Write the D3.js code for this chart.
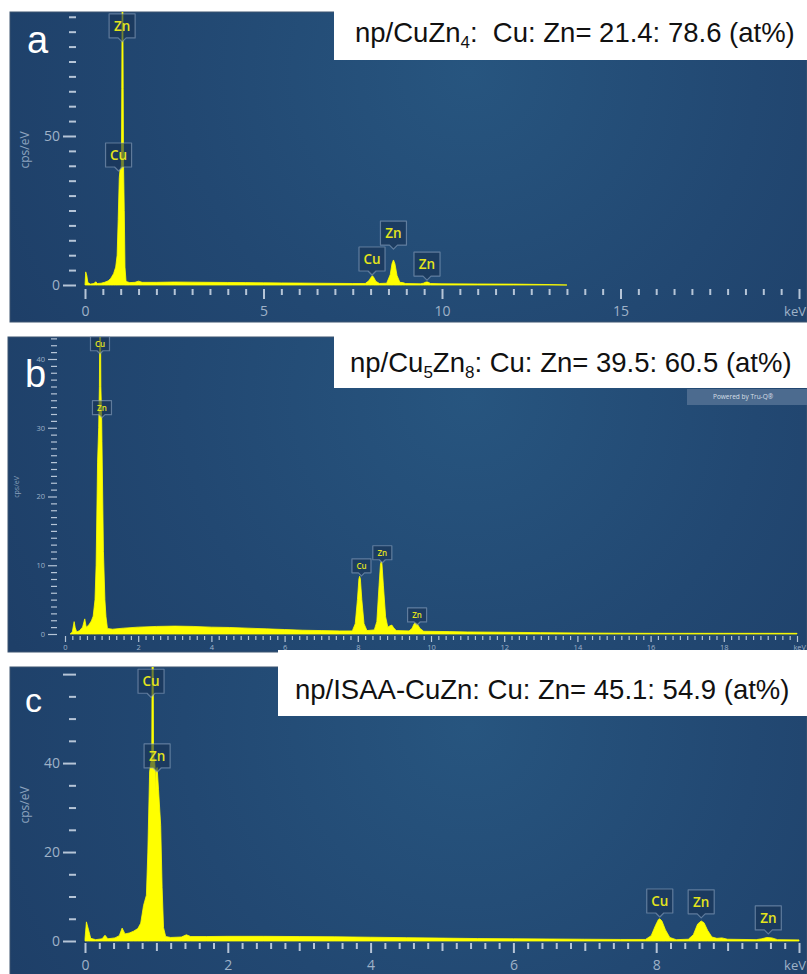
<!DOCTYPE html>
<html>
<head>
<meta charset="utf-8">
<script src="https://cdn.jsdelivr.net/npm/d3@7"></script>
<style>
html, body { margin: 0; padding: 0; background: #ffffff; }
svg { display: block; }
</style>
</head>
<body>
<svg id="chart" width="807" height="974"></svg>
<script>
// EDS spectra, [energy (keV), intensity (cps/eV)]
const spectrumA = [
  [0.00,0],[0.02,4.4],[0.05,3.2],[0.08,0.8],[0.15,0.3],[0.25,0.5],[0.30,1.1],[0.35,0.5],
  [0.45,0.6],[0.55,0.9],[0.65,1.4],[0.72,2.2],[0.80,3.8],[0.86,6],[0.90,10],[0.93,22],
  [0.96,36],[0.98,38.5],[1.00,39],[1.02,40],[1.03,66],[1.04,95],[1.06,95],[1.07,66],
  [1.08,40],[1.10,25],[1.12,6],[1.15,1.2],[1.25,0.8],[1.40,0.9],[1.50,1.3],[1.60,0.9],
  [2.0,0.9],[2.5,1.0],[3.0,0.95],[3.5,0.9],[4.0,0.85],[4.5,0.8],[5.0,0.75],[5.5,0.7],
  [6.0,0.65],[6.5,0.6],[7.0,0.55],[7.5,0.5],[7.85,0.5],[7.95,1.4],[8.02,2.7],[8.05,3.1],
  [8.08,2.7],[8.15,1.2],[8.25,0.5],[8.45,0.6],[8.55,3.5],[8.60,7.2],[8.64,8.4],[8.68,7.2],
  [8.74,3.2],[8.82,0.9],[8.90,0.8],[8.98,0.5],[9.40,0.4],[9.48,0.6],[9.55,1.0],[9.60,1.0],
  [9.68,0.5],[10,0.4],[11,0.35],[12,0.3],[13,0.15],[13.5,0]
];
const spectrumB = [
  [0.14,0],[0.20,0.3],[0.25,1.8],[0.28,0.9],[0.32,0.3],[0.40,0.5],[0.48,1.0],[0.54,2.2],
  [0.58,1.0],[0.65,1.3],[0.72,1.9],[0.77,2.6],[0.82,5],[0.85,10],[0.89,25],[0.92,30],
  [0.94,36],[0.95,45],[0.97,45],[0.98,36],[1.00,32],[1.01,28],[1.05,12],[1.09,5],
  [1.12,2.5],[1.16,0.8],[1.3,0.7],[1.6,0.85],[2.0,1.0],[2.5,1.1],[3.0,1.15],[3.5,1.1],
  [4.0,1.0],[4.5,0.95],[5.0,0.85],[5.5,0.75],[6.0,0.65],[6.5,0.55],[7.0,0.5],[7.5,0.45],
  [7.85,0.45],[7.93,1.5],[7.99,5],[8.03,8],[8.05,8.4],[8.07,8],[8.11,5],[8.17,1.5],
  [8.25,0.5],[8.45,0.6],[8.52,1.8],[8.58,7],[8.62,10.2],[8.64,10.5],[8.66,10.2],[8.70,7],
  [8.76,2.5],[8.82,1.0],[8.88,1.2],[8.93,1.3],[8.98,0.9],[9.05,0.5],[9.40,0.45],[9.48,0.8],
  [9.54,1.5],[9.58,1.6],[9.62,1.5],[9.70,0.8],[9.80,0.4],[10.5,0.35],[11,0.3],[12,0.25],
  [13,0.2],[14,0.15],[15,0.12],[16,0.1],[18,0.1],[20,0.1]
];
const spectrumC = [
  [0.00,0.5],[0.02,4.3],[0.05,2.5],[0.08,0.6],[0.15,0.3],[0.24,0.5],[0.28,1.3],[0.32,0.5],
  [0.42,0.7],[0.48,1.2],[0.52,2.9],[0.56,1.6],[0.62,1.8],[0.68,2.2],[0.74,2.8],[0.78,4],
  [0.82,8],[0.86,10.3],[0.88,20],[0.905,38],[0.92,40],[0.935,41],[0.94,64],[0.955,64],
  [0.96,42],[0.975,40.5],[0.985,38],[0.99,33],[0.995,38],[1.01,39],[1.03,34],[1.06,26],
  [1.08,12],[1.10,3],[1.13,1],[1.2,0.8],[1.35,0.9],[1.42,1.4],[1.48,1.0],[1.7,1.0],
  [2.0,1.05],[2.5,1.05],[3.0,1.0],[3.5,0.95],[4.0,0.85],[4.5,0.75],[5.0,0.65],[5.5,0.55],
  [6.0,0.5],[6.5,0.45],[7.0,0.4],[7.5,0.35],[7.85,0.35],[7.93,1.2],[7.99,3.5],[8.03,4.8],
  [8.05,5],[8.08,4.5],[8.13,2.5],[8.19,0.8],[8.28,0.3],[8.45,0.4],[8.52,1.4],[8.58,3.8],
  [8.63,4.5],[8.67,4.1],[8.72,2.4],[8.78,0.9],[8.85,0.6],[8.92,0.7],[9.0,0.4],[9.40,0.3],
  [9.48,0.5],[9.55,0.8],[9.62,0.7],[9.70,0.3],[10,0.25]
];

// Peak identification tags: element, energy, intensity at the tag's lower edge
const peaksA = [
  {el:"Zn", keV:1.04, cps:82.9}, {el:"Cu", keV:0.94, cps:39.6},
  {el:"Cu", keV:8.04, cps:4.7}, {el:"Zn", keV:8.64, cps:13.4}, {el:"Zn", keV:9.58, cps:3.0}
];
const peaksB = [
  {el:"Cu", keV:0.956, cps:41.2}, {el:"Zn", keV:1.01, cps:31.9},
  {el:"Cu", keV:8.10, cps:8.9}, {el:"Zn", keV:8.67, cps:10.8}, {el:"Zn", keV:9.62, cps:1.75}
];
const peaksC = [
  {el:"Cu", keV:0.925, cps:55.7}, {el:"Zn", keV:1.01, cps:38.9},
  {el:"Cu", keV:8.05, cps:6.3}, {el:"Zn", keV:8.63, cps:6.1}, {el:"Zn", keV:9.57, cps:2.5}
];

// Composition headers: [text, subscript?]
const titleA = [["np/CuZn",0],["4",1],[":  Cu: Zn= 21.4: 78.6 (at%)",0]];
const titleB = [["np/Cu",0],["5",1],["Zn",0],["8",1],[": Cu: Zn= 39.5: 60.5 (at%)",0]];
const titleC = [["np/ISAA-CuZn: Cu: Zn= 45.1: 54.9 (at%)",0]];

// Tick labels
const xLabelsA = [0, 5, 10, 15];
const yLabelsA = [0, 50];
const xLabelsB = [0, 2, 4, 6, 8, 10, 12, 14, 16, 18];
const yLabelsB = [0, 10, 20, 30, 40];
const xLabelsC = [0, 2, 4, 6, 8];
const yLabelsC = [0, 20, 40];

// Panel geometry and styling
const panels = [
  { letter:"a", spectrum:spectrumA, peaks:peaksA, title:titleA, xLabels:xLabelsA, yLabels:yLabelsA,
    fx:10, fy:12, fb:322, x0:85, x1:799, xMax:20, yBase:285, yTop:12, yMax:91.6,
    xMinor:0.5, xMid:null, xAxisY:289, xMajorLen:10, xMidLen:0, xMinorLen:6, xLabelY:311,
    yAxisX:76, yMajorLen:13, yMinorLen:7, yMinor:5, yTickMax:90, yMajorExtra:[],
    tickFont:14, tickW:2, cpsX:25, cpsY:150, cpsFont:12,
    tagW:26, tagH:24, tagFont:13.5, ptr:4,
    titleBox:[334,0,807,60], titleX:355, titleY:42, titleFont:27.5, subFont:17,
    letterX:27, letterY:53, letterFont:38, keVFont:13 },
  { letter:"b", spectrum:spectrumB, peaks:peaksB, title:titleB, xLabels:xLabelsB, yLabels:yLabelsB,
    fx:8, fy:337, fb:652, x0:65, x1:797, xMax:20, yBase:634, yTop:337, yMax:43.2,
    xMinor:0.2, xMid:null, xAxisY:636, xMajorLen:6, xMidLen:0, xMinorLen:4, xLabelY:647,
    yAxisX:57, yMajorLen:9, yMinorLen:6, yMinor:1, yTickMax:43, yMajorExtra:[],
    tickFont:7.5, tickW:1.2, cpsX:17, cpsY:487, cpsFont:7,
    tagW:19, tagH:14, tagFont:8, ptr:3,
    titleBox:[334,325,807,388], titleX:350, titleY:372, titleFont:27.5, subFont:17,
    letterX:25, letterY:387, letterFont:38, keVFont:7.5, powered:true },
  { letter:"c", spectrum:spectrumC, peaks:peaksC, title:titleC, xLabels:xLabelsC, yLabels:yLabelsC,
    fx:10, fy:667, fb:984, x0:85, x1:799, xMax:10, yBase:941, yTop:667, yMax:61.6,
    xMinor:0.2, xMid:1, xAxisY:943, xMajorLen:10, xMidLen:8, xMinorLen:6, xLabelY:965,
    yAxisX:76, yMajorLen:13, yMinorLen:7, yMinor:5, yTickMax:60, yMajorExtra:[60],
    tickFont:14, tickW:2, cpsX:25, cpsY:805, cpsFont:12,
    tagW:26, tagH:24, tagFont:13.5, ptr:4,
    titleBox:[278,650,807,716], titleX:295, titleY:699, titleFont:27.5, subFont:17,
    letterX:25, letterY:712, letterFont:34, keVFont:13 }
];

const svg = d3.select("#chart");
const defs = svg.append("defs");
const tickColor = "#b6c5d7";
const labelColor = "#9fb2c8";
const uiFont = "'Open Sans', 'Noto Sans', sans-serif";

panels.forEach((P, i) => {
  const g = svg.append("g");
  const W = 807 - P.fx;

  // panel background with soft radial light
  const gradId = "bg" + i;
  const grad = defs.append("radialGradient").attr("id", gradId)
    .attr("gradientUnits", "userSpaceOnUse")
    .attr("cx", 470).attr("cy", P.fy + 60).attr("r", 520);
  grad.append("stop").attr("offset", "0%").attr("stop-color", "#27557f");
  grad.append("stop").attr("offset", "55%").attr("stop-color", "#224872");
  grad.append("stop").attr("offset", "100%").attr("stop-color", "#1e3f68");
  g.append("rect").attr("x", P.fx).attr("y", P.fy).attr("width", W).attr("height", P.fb - P.fy)
    .attr("fill", `url(#${gradId})`)
    .attr("stroke", "#3d5570").attr("stroke-width", 1);

  const x = d3.scaleLinear().domain([0, P.xMax]).range([P.x0, P.x1]);
  const y = d3.scaleLinear().domain([0, P.yMax]).range([P.yBase, P.yTop]);

  // x axis: minor, mid and major ticks
  const xMinorVals = d3.range(0, P.xMax + 1e-9, P.xMinor);
  const xMajorVals = P.xLabels.concat([P.xMax]);
  const xMidVals = P.xMid ? d3.range(P.xMid, P.xMax, 2 * P.xMid) : [];
  const near = (arr, v) => arr.some(m => Math.abs(m - v) < 1e-6);
  const xa = g.append("g").attr("class", "x-axis").attr("transform", `translate(0,${P.xAxisY})`);
  xa.append("g").call(d3.axisBottom(x).tickValues(xMinorVals.filter(v => !near(xMajorVals, v) && !near(xMidVals, v)))
      .tickSize(P.xMinorLen).tickFormat(""));
  if (xMidVals.length) xa.append("g").call(d3.axisBottom(x).tickValues(xMidVals).tickSize(P.xMidLen).tickFormat(""));
  xa.append("g").call(d3.axisBottom(x).tickValues(xMajorVals).tickSize(P.xMajorLen)
      .tickFormat(d => d === P.xMax ? "" : d3.format("d")(d)));
  xa.selectAll(".domain").remove();
  xa.selectAll("line").attr("stroke", tickColor).attr("stroke-width", P.tickW);
  xa.selectAll("text").attr("y", P.xLabelY - P.xAxisY).attr("dy", "0.36em")
    .attr("fill", labelColor).attr("font-family", uiFont).attr("font-size", P.tickFont);
  xa.append("text").attr("x", 806).attr("y", P.xLabelY - P.xAxisY).attr("dy", "0.36em").attr("text-anchor", "end")
    .attr("fill", labelColor).attr("font-family", uiFont).attr("font-size", P.keVFont).text("keV");

  // y axis
  const yMinorVals = d3.range(0, P.yTickMax + 1e-9, P.yMinor)
    .filter(v => !P.yLabels.includes(v) && !P.yMajorExtra.includes(v));
  const ya = g.append("g").attr("transform", `translate(${P.yAxisX},0)`);
  ya.append("g").call(d3.axisLeft(y).tickValues(yMinorVals).tickSize(P.yMinorLen).tickFormat(""));
  ya.append("g").call(d3.axisLeft(y).tickValues(P.yLabels).tickSize(P.yMajorLen).tickPadding(3));
  if (P.yMajorExtra.length) ya.append("g").call(d3.axisLeft(y).tickValues(P.yMajorExtra).tickSize(P.yMajorLen).tickFormat(""));
  ya.selectAll(".domain").remove();
  ya.selectAll("line").attr("stroke", tickColor).attr("stroke-width", P.tickW);
  ya.selectAll("text").attr("fill", labelColor).attr("font-family", uiFont).attr("font-size", P.tickFont);

  g.append("text").attr("transform", `translate(${P.cpsX},${P.cpsY}) rotate(-90)`)
    .attr("text-anchor", "middle").attr("dy", "0.35em")
    .attr("fill", "#8ca2be").attr("font-family", uiFont).attr("font-size", P.cpsFont)
    .text("cps/eV");

  // spectrum, clipped to the plotting area
  const clipId = "clip" + i;
  defs.append("clipPath").attr("id", clipId).append("rect")
    .attr("x", P.fx).attr("y", P.yTop).attr("width", W).attr("height", P.yBase - P.yTop + 1);
  const area = d3.area().x(d => x(d[0])).y0(y(0)).y1(d => y(d[1])).curve(d3.curveLinear);
  g.append("path").datum(P.spectrum).attr("clip-path", `url(#${clipId})`)
    .attr("d", area).attr("fill", "#ffff00").attr("stroke", "#ffff00").attr("stroke-width", 0.8);

  // peak tags
  const tags = g.selectAll(".tag").data(P.peaks).join("g").attr("class", "tag")
    .attr("transform", d => `translate(${x(d.keV)},${y(d.cps)})`);
  tags.append("path")
    .attr("d", `M${-P.tagW/2},${-P.tagH} h${P.tagW} v${P.tagH} h${-(P.tagW/2 - P.ptr)} l${-P.ptr},${P.ptr} l${-P.ptr},${-P.ptr} H${-P.tagW/2} Z`)
    .attr("fill", "rgba(24,50,84,0.6)").attr("stroke", "rgba(150,172,198,0.55)").attr("stroke-width", 1.2)
    .attr("stroke-linejoin", "round");
  tags.append("text").attr("x", 0).attr("y", -P.tagH / 2).attr("dy", "0.36em").attr("text-anchor", "middle")
    .attr("fill", "#e4e41c").attr("font-family", uiFont).attr("font-weight", 600).attr("font-size", P.tagFont)
    .text(d => d.el);

  if (P.powered) {
    g.append("rect").attr("x", 687).attr("y", 389).attr("width", 120).attr("height", 16).attr("fill", "#4c6b8f");
    g.append("text").attr("x", 713).attr("y", 397).attr("dy", "0.35em")
      .attr("fill", "rgba(230,238,246,0.9)").attr("font-family", uiFont).attr("font-size", 6.5)
      .text("Powered by Tru-Q®");
  }

  // composition header
  const tb = P.titleBox;
  g.append("rect").attr("x", tb[0]).attr("y", tb[1]).attr("width", tb[2] - tb[0]).attr("height", tb[3] - tb[1])
    .attr("fill", "#ffffff");
  const t = g.append("text").attr("x", P.titleX).attr("y", P.titleY)
    .attr("font-family", "'Liberation Sans', Arial, sans-serif").attr("font-size", P.titleFont)
    .attr("fill", "#111111").style("white-space", "pre");
  let prevSub = false;
  P.title.forEach(([s, sub], k) => {
    const ts = t.append("tspan").text(s);
    if (sub) ts.attr("font-size", P.subFont).attr("dy", 6);
    else if (k > 0 && prevSub) ts.attr("dy", -6);
    prevSub = !!sub;
  });

  // panel letter
  g.append("text").attr("x", P.letterX).attr("y", P.letterY)
    .attr("font-family", "'Liberation Sans', Arial, sans-serif").attr("font-size", P.letterFont)
    .attr("fill", "#ffffff").text(P.letter);
});
</script>
</body>
</html>
